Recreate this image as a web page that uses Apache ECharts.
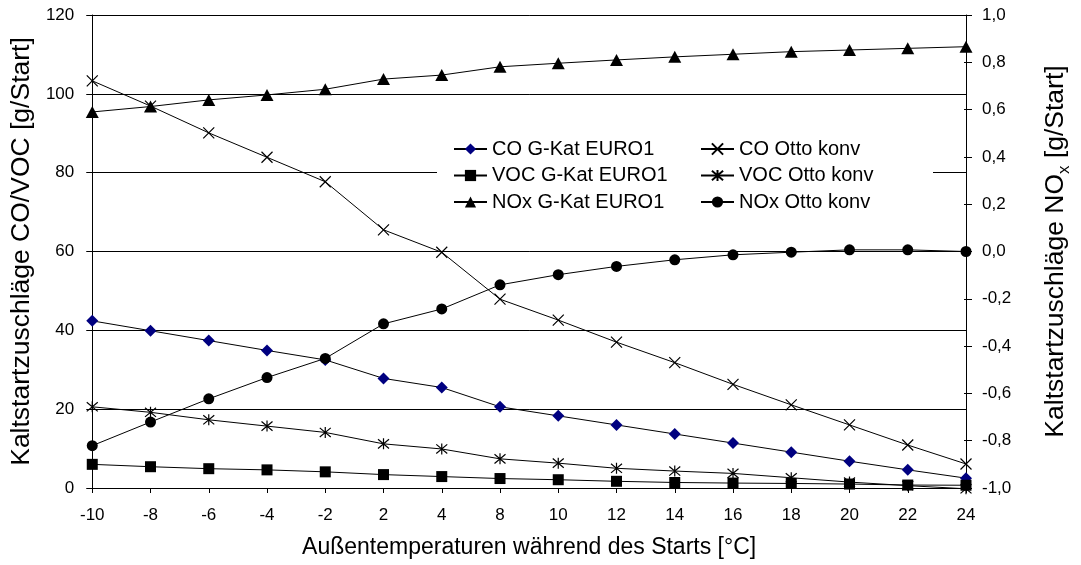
<!DOCTYPE html>
<html>
<head>
<meta charset="utf-8">
<script src="https://cdn.jsdelivr.net/npm/echarts@6/dist/echarts.min.js"></script>
<style>
  html, body { margin: 0; padding: 0; background: #fff; }
  #chart { width: 1081px; height: 565px; }
</style>
</head>
<body>
<div id="chart"></div>
<script>
// Outside temperature during the start [°C]
const temperatures = ['-10', '-8', '-6', '-4', '-2', '2', '4', '8', '10', '12', '14', '16', '18', '20', '22', '24'];

// Cold-start surcharges, CO / VOC in g per start (left axis)
const coKat   = [42.4, 39.9, 37.4, 34.9, 32.5, 27.8, 25.5, 20.6, 18.3, 16.0, 13.7, 11.4, 9.1, 6.8, 4.6, 2.5];
const vocKat  = [6.0, 5.4, 4.9, 4.6, 4.1, 3.4, 2.9, 2.4, 2.1, 1.7, 1.4, 1.25, 1.15, 1.0, 0.75, 0.7];
const coOtto  = [103.3, 96.9, 90.1, 83.9, 77.7, 65.5, 59.8, 47.9, 42.6, 37.0, 31.8, 26.3, 21.1, 16.0, 10.9, 6.1];
const vocOtto = [20.6, 19.2, 17.3, 15.7, 14.1, 11.2, 9.9, 7.4, 6.3, 5.0, 4.3, 3.7, 2.6, 1.5, 0.6, -0.2];

// Cold-start surcharges, NOx in g per start (right axis)
const noxKat  = [0.590, 0.613, 0.641, 0.662, 0.686, 0.729, 0.746, 0.781, 0.796, 0.810, 0.823, 0.834, 0.845, 0.852, 0.859, 0.866];
const noxOtto = [-0.821, -0.721, -0.623, -0.533, -0.452, -0.306, -0.243, -0.141, -0.098, -0.063, -0.035, -0.014, -0.003, 0.007, 0.007, 0.0];

const leftTicks = { min: 0, max: 120, interval: 20 };
const rightTicks = { min: -1, max: 1, interval: 0.2 };

const FONT = '"Liberation Sans", Arial, sans-serif';
const SYM_CROSS = 'path://M0,0L10,10M10,0L0,10';
const SYM_STAR = 'path://M0,0L10,10M10,0L0,10M5,-1L5,11';

function lineSeries(name, data, axis, symbol, size, fill) {
  return {
    name: name,
    type: 'line',
    data: data,
    yAxisIndex: axis,
    symbol: symbol,
    symbolSize: size,
    showAllSymbol: true,
    clip: false,
    z: 2,
    lineStyle: { color: '#000', width: 1 },
    itemStyle: { color: fill, borderColor: fill === 'none' ? '#000' : fill, borderWidth: fill === 'none' ? 1.2 : 0 },
    emphasis: { disabled: true },
    animation: false
  };
}

const commaFmt = v => (Math.abs(v) < 1e-9 ? 0 : v).toFixed(1).replace('.', ',');

const chart = echarts.init(document.getElementById('chart'), null, { renderer: 'canvas' });

const gridBox = { left: 91, right: 111, top: 15, bottom: 77 };

chart.setOption({
  backgroundColor: '#fff',
  animation: false,
  textStyle: { fontFamily: FONT, color: '#000' },
  grid: [
    Object.assign({}, gridBox, { containLabel: false }),
    Object.assign({}, gridBox, { containLabel: false })
  ],
  legend: [
    {
      orient: 'vertical',
      left: 453, top: 139,
      padding: 0,
      itemGap: 6.5,
      itemWidth: 33, itemHeight: 14,
      textStyle: { fontFamily: FONT, fontSize: 20, color: '#000' },
      data: ['CO G-Kat EURO1', 'VOC G-Kat EURO1', 'NOx G-Kat EURO1'],
      selectedMode: false
    },
    {
      orient: 'vertical',
      left: 700, top: 139,
      padding: 0,
      itemGap: 6.5,
      itemWidth: 33, itemHeight: 14,
      textStyle: { fontFamily: FONT, fontSize: 20, color: '#000' },
      data: ['CO Otto konv', 'VOC Otto konv', 'NOx Otto konv'],
      selectedMode: false
    }
  ],
  graphic: [
    {
      // white panel behind the legend
      type: 'rect',
      z: 3,
      silent: true,
      shape: { x: 437, y: 133, width: 496, height: 84 },
      style: { fill: '#fff' }
    }
  ],
  xAxis: [
    {
      type: 'category',
      gridIndex: 0,
      data: temperatures,
      boundaryGap: false,
      axisLine: { lineStyle: { color: '#000', width: 1 } },
      axisTick: { show: true, length: 5, interval: 0, lineStyle: { color: '#000' } },
      axisLabel: { interval: 0, margin: 19, fontSize: 17, fontFamily: FONT, color: '#000' },
      splitLine: { show: false },
      name: 'Außentemperaturen während des Starts [°C]',
      nameLocation: 'middle',
      nameGap: 48,
      nameTextStyle: { fontSize: 23, fontFamily: FONT, color: '#000' }
    },
    {
      type: 'category',
      gridIndex: 1,
      data: temperatures,
      boundaryGap: false,
      show: false
    }
  ],
  yAxis: [
    {
      type: 'value',
      gridIndex: 0,
      position: 'left',
      min: leftTicks.min, max: leftTicks.max, interval: leftTicks.interval,
      axisLine: { show: true, lineStyle: { color: '#000', width: 1 } },
      axisTick: { show: true, length: 6, lineStyle: { color: '#000' } },
      axisLabel: { margin: 18, fontSize: 17, fontFamily: FONT, color: '#000' },
      splitLine: { show: true, lineStyle: { color: '#000', width: 1 } },
      name: 'Kaltstartzuschläge CO/VOC [g/Start]',
      nameLocation: 'middle',
      nameRotate: 90,
      nameGap: 54,
      nameTextStyle: { fontSize: 26.5, fontFamily: FONT, color: '#000' }
    },
    {
      type: 'value',
      gridIndex: 0,
      position: 'right',
      min: rightTicks.min, max: rightTicks.max, interval: rightTicks.interval,
      axisLine: { show: true, lineStyle: { color: '#000', width: 1 } },
      axisTick: { show: true, length: 6, lineStyle: { color: '#000' } },
      axisLabel: { margin: 16, fontSize: 17, fontFamily: FONT, color: '#000', formatter: commaFmt },
      splitLine: { show: false },
      name: '{a|Kaltstartzuschläge NO}{b|x}{a| [g/Start]}',
      nameLocation: 'middle',
      nameRotate: 90,
      nameGap: 73,
      nameTextStyle: {
        fontFamily: FONT, color: '#000',
        rich: {
          a: { fontSize: 26.5, fontFamily: FONT, color: '#000', lineHeight: 34 },
          b: { fontSize: 17, fontFamily: FONT, color: '#000', verticalAlign: 'bottom', lineHeight: 34 }
        }
      }
    },
    {
      // inner half of the right-hand tick marks
      type: 'value',
      gridIndex: 1,
      position: 'right',
      min: rightTicks.min, max: rightTicks.max, interval: rightTicks.interval,
      axisLine: { show: false },
      axisTick: { show: true, inside: true, length: 6, lineStyle: { color: '#000' } },
      axisLabel: { show: false },
      splitLine: { show: false }
    }
  ],
  series: [
    lineSeries('CO G-Kat EURO1', coKat, 0, 'diamond', 12, '#000080'),
    lineSeries('VOC G-Kat EURO1', vocKat, 0, 'rect', 11, '#000'),
    lineSeries('NOx G-Kat EURO1', noxKat, 1, 'triangle', [13, 12], '#000'),
    lineSeries('CO Otto konv', coOtto, 0, SYM_CROSS, 11, 'none'),
    lineSeries('VOC Otto konv', vocOtto, 0, SYM_STAR, 11, 'none'),
    lineSeries('NOx Otto konv', noxOtto, 1, 'circle', 11, '#000')
  ]
});
</script>
</body>
</html>
